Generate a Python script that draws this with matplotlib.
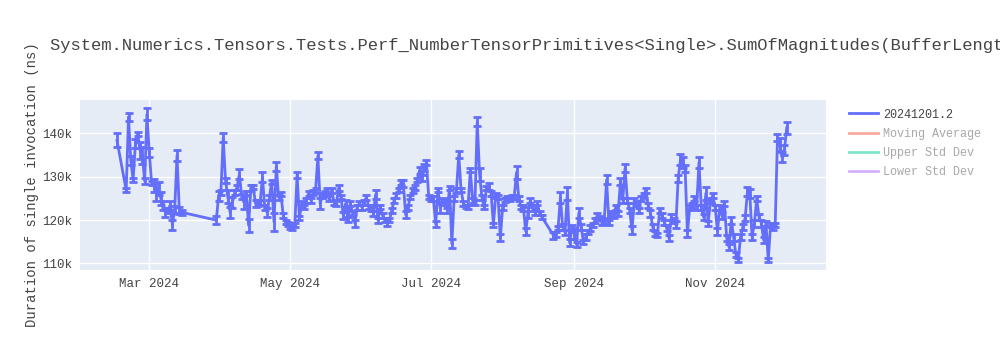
import pandas as pd
import matplotlib.pyplot as plt
import matplotlib.dates as mdates
from matplotlib.lines import Line2D
from matplotlib.ticker import FuncFormatter, FixedLocator

# durations in thousands of ns, one run of daily results per list
run_starts = ['2024-02-16', '2024-02-20', '2024-03-30', '2024-08-23']

dur_feb16 = [138.4]
err_feb16 = [1.6]

dur_late_winter = [126.9, 143.8, 133.8, 129.2, 137.7, 139.8, 136.1, 134.9, 129.0, 144.4,
                   135.6, 128.5, 128.0, 126.5, 127.4, 125.0, 123.4, 121.8, 122.3, 123.4,
                   118.9, 122.4, 134.9, 122.3, 121.8]
err_late_winter = [0.5, 0.9, 1.0, 0.5, 1.0, 0.5, 2.0, 2.0, 0.6, 1.4,
                   1.1, 0.5, 1.5, 2.0, 1.5, 1.5, 1.0, 1.0, 0.6, 1.0,
                   1.2, 0.8, 1.2, 0.8, 0.6]

dur_spring_summer = [120.0, 125.5, 126.4, 139.0, 129.2, 125.4, 121.8, 124.1, 126.4, 127.6,
                     130.6, 125.5, 124.1, 126.2, 118.8, 127.4, 127.6, 123.8, 123.8, 124.1,
                     129.9, 122.9, 121.8, 125.2, 128.8, 119.6, 132.4, 125.3, 126.0, 121.1,
                     119.5, 119.1, 118.4, 118.2, 118.9, 130.4, 120.5, 123.9, 123.0, 124.6,
                     126.2, 124.6, 126.4, 126.9, 134.8, 123.8, 125.7, 126.2, 126.9, 125.0,
                     126.9, 124.1, 123.9, 127.4, 125.3, 121.1, 123.8, 120.1, 123.9, 121.6,
                     119.3, 123.0, 123.9, 123.0, 124.1, 125.3, 123.0, 122.8, 121.6, 125.9,
                     120.0, 123.0, 121.1, 120.0, 119.3, 120.0, 122.3, 124.6, 125.7, 126.9,
                     128.7, 128.4, 121.2, 123.0, 125.3, 126.9, 127.6, 129.2, 131.5, 129.7,
                     132.2, 133.2, 125.3, 125.0, 125.0, 119.1, 127.0, 122.8, 124.6, 124.1,
                     122.3, 127.4, 114.6, 125.0, 126.9, 135.1, 126.9, 123.9, 123.2, 123.0,
                     131.5, 124.6, 124.1, 142.7, 130.6, 125.3, 123.0, 127.4, 127.8, 126.2,
                     118.9, 125.7, 125.3, 115.9, 123.0, 124.6, 125.0, 125.0, 125.3, 125.3,
                     131.0, 125.0, 123.0, 122.8, 117.4, 121.8, 124.6, 122.8, 121.8, 123.9,
                     121.6, 120.7]
err_spring_summer = [1.0, 1.2, 0.5, 1.0, 0.6, 1.5, 1.2, 1.2, 0.5, 0.6,
                     1.2, 0.6, 1.5, 0.5, 1.5, 0.6, 0.5, 0.8, 0.6, 0.5,
                     1.2, 0.6, 1.0, 0.6, 0.4, 2.0, 1.0, 0.6, 0.5, 0.6,
                     0.5, 0.5, 0.4, 0.4, 0.5, 0.8, 0.5, 0.6, 0.5, 0.6,
                     0.6, 0.6, 0.5, 0.6, 0.8, 1.2, 0.6, 0.6, 0.5, 0.6,
                     0.6, 0.5, 0.6, 0.6, 0.5, 0.8, 0.8, 0.6, 0.6, 0.5,
                     0.8, 0.6, 0.5, 0.6, 0.6, 0.6, 0.5, 0.6, 0.6, 1.0,
                     0.6, 0.5, 0.6, 0.5, 0.6, 0.5, 0.6, 0.6, 0.6, 0.5,
                     0.5, 0.8, 0.8, 0.6, 0.5, 0.6, 0.6, 0.5, 0.8, 0.6,
                     0.8, 0.6, 0.5, 0.5, 0.5, 0.8, 0.5, 1.2, 0.6, 0.6,
                     0.6, 0.5, 1.0, 0.6, 0.6, 0.8, 0.5, 0.6, 0.4, 0.5,
                     0.5, 0.6, 0.5, 1.0, 1.5, 0.6, 0.5, 0.5, 0.8, 0.6,
                     0.5, 0.6, 0.5, 0.8, 0.6, 0.5, 0.5, 0.5, 0.5, 0.5,
                     1.5, 0.5, 0.5, 0.6, 0.8, 1.2, 0.6, 0.6, 0.6, 0.5,
                     0.5, 0.5]

dur_autumn = [116.5, 116.6, 118.2, 125.2, 118.4, 117.2, 126.2, 114.8, 118.2, 116.9,
              114.3, 121.7, 118.4, 114.9, 116.1, 117.2, 118.2, 118.9, 120.0, 121.1,
              120.5, 119.5, 120.0, 129.3, 119.5, 121.6, 121.1, 123.0, 121.6, 129.0,
              124.6, 132.0, 124.6, 122.3, 117.7, 124.6, 123.9, 122.3, 125.0, 125.7,
              126.9, 123.4, 121.6, 118.4, 117.0, 116.6, 122.3, 121.1, 119.5, 118.2,
              115.9, 120.7, 120.0, 118.9, 129.7, 134.0, 133.3, 132.0, 117.0, 123.0,
              123.4, 125.0, 123.0, 133.3, 123.0, 120.7, 126.2, 119.3, 124.6, 125.7,
              123.0, 117.4, 123.0, 121.1, 123.9, 115.9, 113.8, 120.0, 116.1, 112.0,
              110.8, 116.1, 118.4, 120.5, 126.6, 126.2, 116.1, 119.3, 124.9, 120.7,
              119.3, 115.4, 119.3, 110.8, 118.9, 118.2, 118.9, 139.0, 137.4, 134.5,
              136.2, 141.3]
err_autumn = [0.8, 0.6, 0.5, 1.2, 0.6, 0.6, 1.5, 0.8, 0.6, 1.2,
              0.6, 1.2, 0.6, 0.5, 0.6, 0.5, 0.6, 0.5, 0.6, 0.6,
              0.5, 0.6, 0.6, 1.0, 0.6, 0.6, 0.5, 0.6, 0.6, 0.8,
              0.6, 1.0, 0.6, 0.6, 1.0, 0.6, 0.6, 0.6, 0.6, 0.6,
              0.6, 0.6, 0.8, 0.6, 0.6, 0.5, 0.6, 0.6, 0.6, 0.6,
              0.6, 0.6, 0.6, 0.8, 0.8, 1.2, 1.2, 0.8, 0.8, 0.6,
              0.6, 0.6, 0.6, 1.2, 0.6, 0.6, 1.5, 0.6, 0.6, 0.6,
              0.6, 0.8, 0.6, 0.8, 0.6, 0.6, 0.6, 0.8, 0.8, 0.6,
              0.4, 0.6, 0.6, 0.6, 1.0, 1.0, 0.6, 0.8, 0.6, 0.6,
              0.8, 0.6, 0.6, 0.5, 0.5, 0.5, 0.5, 0.8, 1.5, 1.2,
              1.2, 1.4]

title = 'System.Numerics.Tensors.Tests.Perf_NumberTensorPrimitives<Single>.SumOfMagnitudes(BufferLength: 3079)'
legend_names = ['20241201.2', 'Moving Average', 'Upper Std Dev', 'Lower Std Dev']
legend_colors = ['#636EFA', '#EF553B', '#00CC96', '#AB63FA']
y_ticks = [110000, 120000, 130000, 140000]

# build one dataframe from the daily runs
frames = []
for start, durs, errs in zip(run_starts,
                             [dur_feb16, dur_late_winter, dur_spring_summer, dur_autumn],
                             [err_feb16, err_late_winter, err_spring_summer, err_autumn]):
    frames.append(pd.DataFrame({
        'date': pd.date_range(start, periods=len(durs), freq='D'),
        'ns': [d * 1000 for d in durs],
        'err': [e * 1000 for e in errs],
    }))
df = pd.concat(frames, ignore_index=True)

mono = 'Liberation Mono'
text_color = '#444444'

fig = plt.figure(figsize=(10, 3.5), dpi=100, facecolor='white')
ax = fig.add_axes([0.08, 0.2286, 0.746, 0.4857])
ax.set_facecolor('#E5ECF6')

ax.errorbar(df['date'], df['ns'], yerr=df['err'], color=legend_colors[0], lw=2,
            elinewidth=2, capsize=3, capthick=2, zorder=3)

ax.set_xlim(pd.Timestamp('2024-01-31'), pd.Timestamp('2024-12-19'))
ax.set_ylim(108500, 147700)

ax.xaxis.set_major_locator(mdates.MonthLocator(bymonth=[3, 5, 7, 9, 11]))
ax.xaxis.set_major_formatter(mdates.DateFormatter('%b %Y'))
ax.yaxis.set_major_locator(FixedLocator(y_ticks))
ax.yaxis.set_major_formatter(FuncFormatter(lambda v, p: f'{int(v / 1000)}k'))

ax.grid(True, color='white', lw=1, zorder=0)
ax.set_axisbelow(True)
for s in ax.spines.values():
    s.set_visible(False)
ax.tick_params(length=0, pad=6, labelsize=9, labelcolor=text_color)
for lab in ax.get_xticklabels() + ax.get_yticklabels():
    lab.set_fontfamily(mono)

ax.set_ylabel('Duration of single invocation (ns)', fontfamily=mono, fontsize=10,
              color=text_color, labelpad=2)
fig.text(0.05, 0.87, title, fontfamily=mono, fontsize=12.35, color=text_color,
         ha='left', va='center')

# legend: only the first trace is shown, the others are toggled off
handles = [Line2D([], [], color=c, lw=2, alpha=1.0 if i == 0 else 0.5)
           for i, c in enumerate(legend_colors)]
leg = fig.legend(handles, legend_names, loc='upper left', bbox_to_anchor=(0.838, 0.72),
                 frameon=False, prop={'family': mono, 'size': 8.5},
                 handlelength=2.5, handletextpad=0.4, labelspacing=0.6)
for i, t in enumerate(leg.get_texts()):
    t.set_color(text_color if i == 0 else '#A8A8A8')

fig.savefig('out.png', dpi=100, facecolor='white')
